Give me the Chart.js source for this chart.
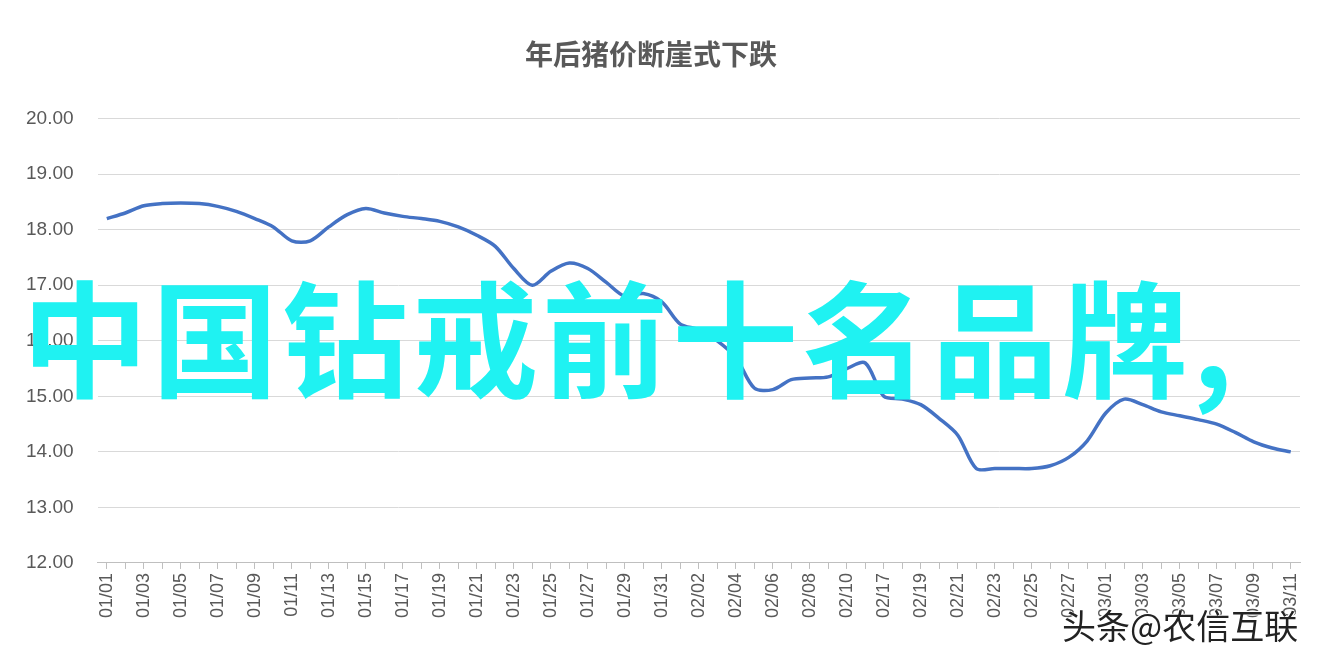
<!DOCTYPE html>
<html><head><meta charset="utf-8">
<script src="https://cdn.jsdelivr.net/npm/chart.js@4"></script>
<style>
html,body{margin:0;padding:0;background:#fff;}
#wrap{position:relative;width:1326px;height:654px;}
#ov{position:absolute;left:22px;top:270px;font:bold 126px "Noto Sans CJK SC";color:#1ff2f2;white-space:nowrap;letter-spacing:4px;line-height:1;}
#wm{position:absolute;left:1062px;top:600px;font:34px "Noto Sans CJK SC";color:#222;text-shadow:1px 1px 0 #fff,-1px -1px 0 #fff;}
</style></head><body>
<div id="wrap"><canvas id="c" width="1326" height="654"></canvas>
<div id="ov">中国钻戒前十名品牌,</div>
<div id="wm">头条@农信互联</div></div>
<script>
const title = "年后猪价断崖式下跌";
const categories = [];
for (let d=1; d<=31; d++) categories.push("01/"+String(d).padStart(2,"0"));
for (let d=1; d<=10; d++) categories.push("02/"+String(d).padStart(2,"0"));
categories.push("02/16");
for (let d=17; d<=28; d++) categories.push("02/"+d);
for (let d=1; d<=11; d++) categories.push("03/"+String(d).padStart(2,"0"));
const prices = [18.2,18.3,18.43,18.47,18.48,18.47,18.42,18.33,18.2,18.05,17.8,17.8,18.05,18.27,18.38,18.3,18.24,18.2,18.15,18.05,17.9,17.7,17.3,17.0,17.25,17.4,17.3,17.05,16.8,16.85,16.7,16.3,16.2,16.0,15.7,15.15,15.12,15.3,15.33,15.35,15.5,15.6,15.0,14.95,14.85,14.6,14.3,13.7,13.7,13.7,13.7,13.75,13.9,14.2,14.7,14.95,14.85,14.72,14.65,14.58,14.5,14.35,14.18,14.07,14.0];
new Chart(document.getElementById('c'), {
  type:'line',
  data:{labels:categories,datasets:[{data:prices,borderColor:'#4472C4',borderWidth:3.5,pointRadius:0,tension:0.3,fill:false}]},
  options:{responsive:false,animation:false,
    layout:{padding:{left:2,right:26,top:20,bottom:32}},
    plugins:{legend:{display:false},tooltip:{enabled:false},
      title:{display:true,text:title,color:'#595959',font:{family:'Noto Sans CJK SC',size:28,weight:'bold'},padding:{top:18,bottom:47}}},
    scales:{
      y:{min:12,max:20,ticks:{stepSize:1,color:'#595959',font:{family:'Liberation Sans',size:19},padding:24,callback:v=>v.toFixed(2)},
         grid:{color:'#d9d9d9',drawTicks:false},border:{display:false}},
      x:{offset:true,ticks:{autoSkip:false,maxRotation:90,minRotation:90,color:'#595959',font:{family:'Liberation Sans',size:18},padding:4,
         callback:function(v,i){return i%2===0?categories[i]:'';}},
         grid:{display:true,drawOnChartArea:false,color:'#bfbfbf',tickLength:6},border:{color:'#bfbfbf'}}
    }}
});
</script></body></html>
